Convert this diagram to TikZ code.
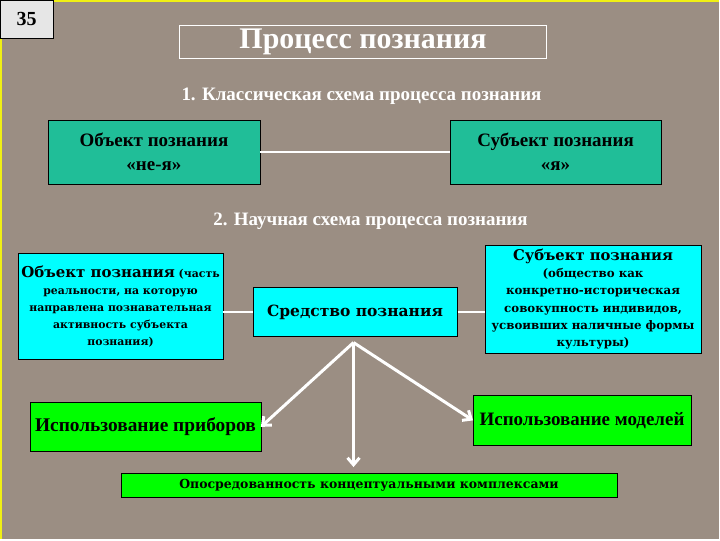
\documentclass[tikz,border=0pt]{standalone}
\usepackage{fontspec}
\setmainfont{Liberation Serif}
\newfontfamily\wideserif{DejaVu Serif}
\usetikzlibrary{arrows.meta}
\definecolor{granite}{RGB}{155,142,131}
\definecolor{seagreen}{RGB}{32,190,152}
\definecolor{boxcyan}{RGB}{0,255,255}
\definecolor{boxgreen}{RGB}{0,255,0}
\definecolor{slidegray}{RGB}{230,230,230}
\definecolor{edgeyellow}{RGB}{240,240,20}
\begin{document}
\begin{tikzpicture}[x=1pt,y=-1pt,
  cls/.style={draw=black,fill=seagreen,minimum width=212pt,minimum height=64pt,align=center,inner sep=2pt,font=\bfseries\fontsize{19}{24}\selectfont},
  sci/.style={draw=black,fill=boxcyan,align=center,inner sep=1pt,font=\wideserif\bfseries\fontsize{10.9}{17}\selectfont},
  usebox/.style={draw=black,fill=boxgreen,align=center,inner sep=2pt},
  hdr/.style={text=white,font=\bfseries\fontsize{19}{20}\selectfont},
  link/.style={white,line width=1.5pt},
  ray/.style={white,line width=3pt,-{Straight Barb[length=7pt,width=12pt]}}]
  % slide background
  \fill[granite] (0,0) rectangle (720,540);
  \draw[edgeyellow,line width=2.5pt] (1,540) -- (1,1) -- (720,1);
  \node[draw=black,fill=slidegray,minimum width=53pt,minimum height=38pt,inner sep=0pt,font=\bfseries\fontsize{20}{22}\selectfont] (num) at (26.5,19){35};
  \node[draw=white,line width=0.8pt,minimum width=367pt,minimum height=33pt,inner sep=0pt,text=white,font=\bfseries\fontsize{30}{30}\selectfont] (title) at (363.5,41.5){Процесс познания};
  % classical scheme
  \node[hdr] (h1) at (362,96){1. Классическая схема процесса познания};
  \node[cls] (objA) at (154,152){Объект познания\\«не-я»};
  \node[cls,minimum width=211pt] (subA) at (556.5,152){Субъект познания\\«я»};
  \draw[link] (objA.east) -- (subA.west);
  % scientific scheme
  \node[hdr] (h2) at (371,221){2. Научная схема процесса познания};
  \node[sci,minimum width=205pt,minimum height=107pt] (objB) at (120.5,306.5){{\fontsize{15}{18}\selectfont Объект познания} (часть\\реальности, на которую\\направлена познавательная\\активность субъекта\\познания)};
  \node[sci,minimum width=205pt,minimum height=49pt,font=\wideserif\bfseries\fontsize{15.5}{18}\selectfont] (means) at (355.5,312.5){Средство познания};
  \node[sci,minimum width=216pt,minimum height=109pt,font=\wideserif\bfseries\fontsize{11.8}{17.4}\selectfont] (subB) at (594,299.5){{\fontsize{14.8}{18}\selectfont Субъект познания}\\(общество как\\конкретно-историческая\\совокупность индивидов,\\усвоивших наличные формы\\культуры)};
  \draw[link] (means.west -| objB.east) -- (means.west);
  \draw[link] (means.east) -- (means.east -| subB.west);
  \node[usebox,minimum width=231pt,minimum height=49pt,font=\bfseries\fontsize{19.4}{20}\selectfont] (tools) at (145.5,427.5){Использование приборов};
  \node[usebox,minimum width=218pt,minimum height=50pt,font=\bfseries\fontsize{19}{20}\selectfont] (models) at (583,421){Использование моделей};
  \node[usebox,minimum width=497pt,minimum height=24pt,font=\wideserif\bfseries\fontsize{12.5}{14}\selectfont] (concept) at (369.5,486){Опосредованность концептуальными комплексами};
  \coordinate (fork) at (354,343);
  \draw[ray] (fork) -- (tools.east);
  \draw[ray,shorten >=6pt] (fork) -- (fork |- concept.north);
  \draw[ray] (fork) -- (models.west);
\end{tikzpicture}
\end{document}
